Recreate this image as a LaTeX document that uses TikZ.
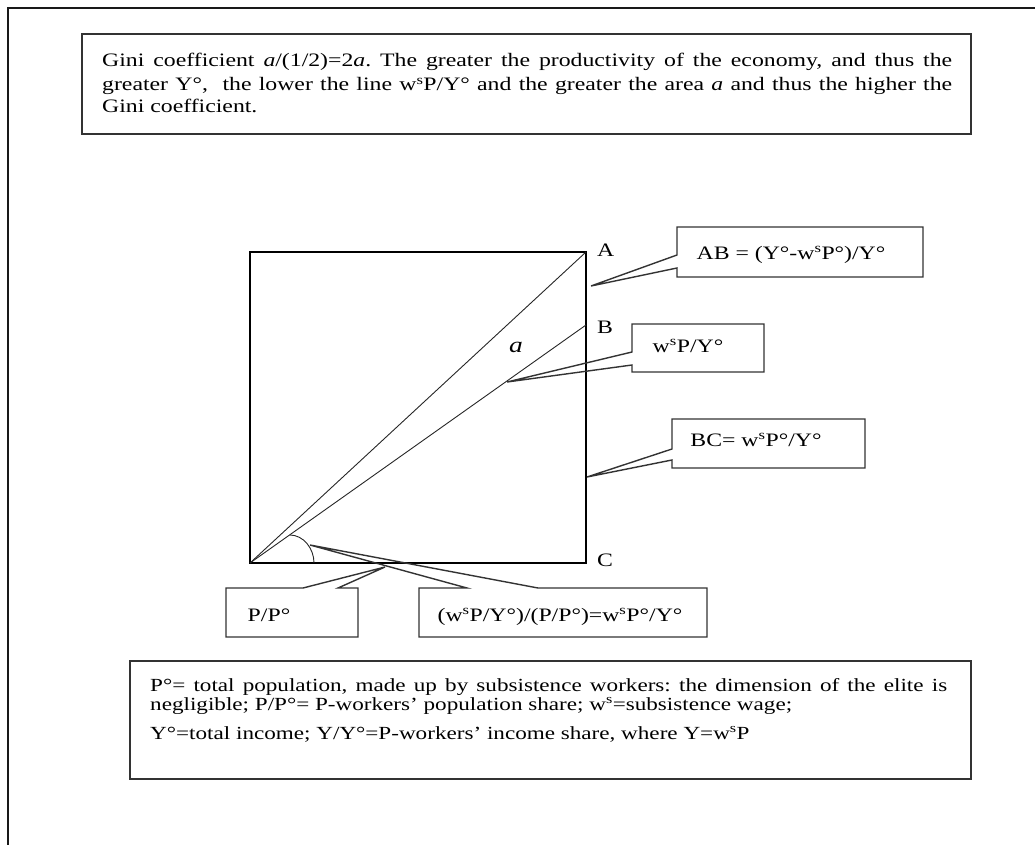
\documentclass[tikz,border=0pt]{standalone}
\usepackage{fontspec}
\setmainfont{Liberation Serif}[FakeStretch=1.25]
\frenchspacing
\begin{document}
\begin{tikzpicture}[x=1pt,y=-1pt,
  font=\fontsize{19}{23}\selectfont,
  frame/.style={line width=1.6pt, draw=black!90},
  boxline/.style={line width=1.4pt, draw=black!80, line join=miter},
  sqline/.style={line width=1.3pt, draw=black},
  thinline/.style={line width=0.9pt, draw=black!85},
  txt/.style={inner sep=0pt, anchor=base west},
  ctxt/.style={inner sep=0pt, anchor=base},
  small/.style={font=\fontsize{18.5}{20}\selectfont}]
\useasboundingbox (0,0) rectangle (1035,845);
\draw[frame] (8,845) -- (8,8) -- (1035,8);

% top box
\draw[boxline] (82,34) rectangle (971,134);
\node[txt] (t1) at (102,67) {\makebox[850pt][s]{Gini coefficient \textit{a}/(1/2)=2\textit{a}. The greater the productivity of the economy, and thus the}};
\node[txt] (t2) at (102,91) {\makebox[850pt][s]{greater Y°,\ \ the lower the line w\textsuperscript{s}P/Y° and the greater the area \textit{a} and thus the higher the}};
\node[txt] (t3) at (102,113) {Gini coefficient.};

% square
\coordinate (O) at (250,563);
\coordinate (TL) at (250,252);
\coordinate (A) at (586,252);
\coordinate (B) at (586,325);
\coordinate (C) at (586,563);
\draw[sqline] (O) -- (TL) -- (A) -- (C) -- cycle;
\draw[thinline] (O) -- (A);
\draw[thinline] (O) -- (B);
\draw[thinline] (290,535) .. controls (303,535) and (314,548) .. (314,563);
\node[txt] (lA) at (597,256) {A};
\node[txt] (lB) at (597,333) {B};
\node[txt] (lC) at (597,566) {C};
\node[inner sep=0pt, font=\fontsize{22}{22}\selectfont\itshape] (alab) at (516,347) {a};

% callouts
\coordinate (abtip) at (591,286);
\coordinate (wptip) at (507,382);
\coordinate (bctip) at (587,477);
\coordinate (pptip) at (385,567);
\coordinate (eqtip) at (310,545);
\draw[boxline] (677,227) -- (923,227) -- (923,277) -- (677,277) -- (677,268) -- (abtip) -- (677,255) -- cycle;
\draw[boxline] (632,324) -- (764,324) -- (764,372) -- (632,372) -- (632,365) -- (wptip) -- (632,352) -- cycle;
\draw[boxline] (672,419) -- (865,419) -- (865,468) -- (672,468) -- (672,460) -- (bctip) -- (672,449) -- cycle;
\draw[boxline] (226,588) -- (303,588) -- (pptip) -- (338,588) -- (358,588) -- (358,637) -- (226,637) -- cycle;
\draw[boxline] (419,588) -- (467,588) -- (eqtip) -- (538,588) -- (707,588) -- (707,637) -- (419,637) -- cycle;
\node[ctxt] (ab) at (791,259) {AB = (Y°-w\textsuperscript{s}P°)/Y°};
\node[ctxt] (wp) at (688,352) {w\textsuperscript{s}P/Y°};
\node[ctxt] (bc) at (756,446) {BC= w\textsuperscript{s}P°/Y°};
\node[ctxt] (pp) at (269,621) {P/P°};
\node[ctxt] (eq) at (560,621) {(w\textsuperscript{s}P/Y°)/(P/P°)=w\textsuperscript{s}P°/Y°};

% bottom box
\draw[boxline] (130,661) rectangle (971,779);
\node[txt,small] (b1) at (150,691) {\makebox[797pt][s]{P°= total population, made up by subsistence workers: the dimension of the elite is}};
\node[txt,small] (b2) at (150,710) {negligible; P/P°= P-workers’ population share; w\textsuperscript{s}=subsistence wage;};
\node[txt,small] (b3) at (150,739) {Y°=total income; Y/Y°=P-workers’ income share, where Y=w\textsuperscript{s}P};
\end{tikzpicture}
\end{document}
